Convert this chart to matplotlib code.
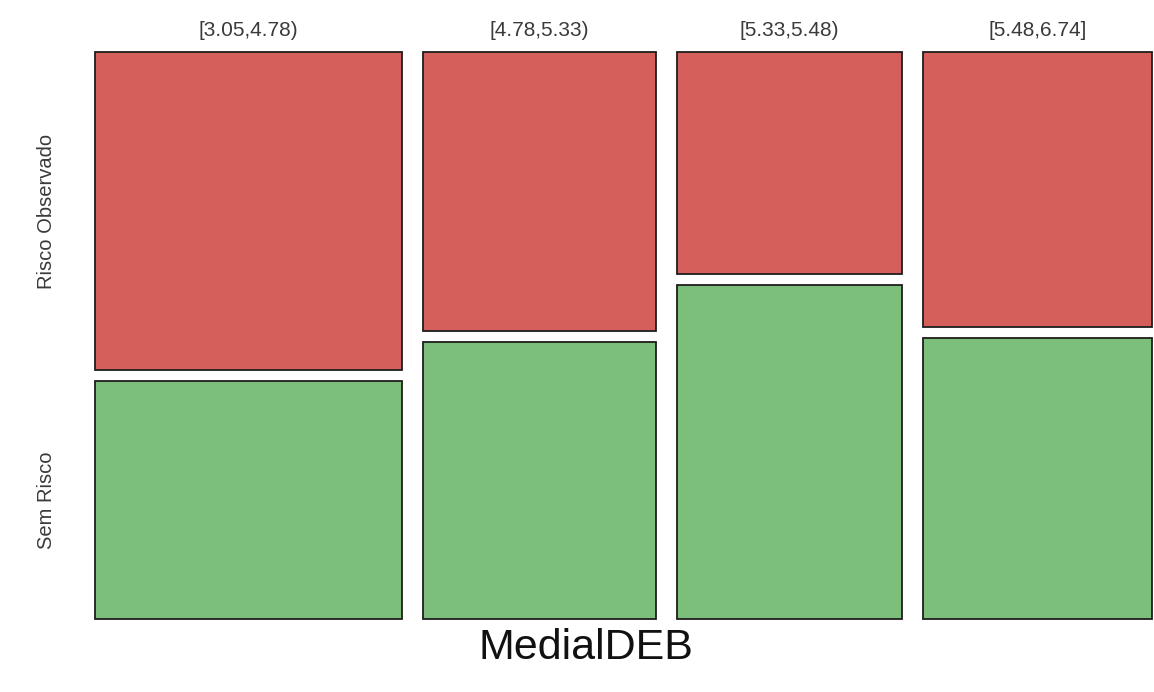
import matplotlib
matplotlib.use("Agg")
import matplotlib.pyplot as plt
from matplotlib.patches import Rectangle
from matplotlib.transforms import blended_transform_factory

# Mosaic of risk outcome by MedialDEB interval
intervals = ["[3.05,4.78)", "[4.78,5.33)", "[5.33,5.48)", "[5.48,6.74]"]
interval_share = [0.309, 0.234, 0.227, 0.230]   # share of observations per interval
risk_share = [0.572, 0.502, 0.400, 0.495]       # share with "Risco Observado" per interval
outcomes = ["Risco Observado", "Sem Risco"]
outcome_colors = ["#D55F5A", "#7BBF7A"]

gap_x = 0.0211
gap_y = 0.0198

plt.rcParams["font.family"] = ["Liberation Sans", "DejaVu Sans"]

fig = plt.figure(figsize=(11.54, 6.92), dpi=100)
ax = fig.add_axes([95 / 1154, 1 - 619 / 692, 1057 / 1154, 567 / 692])

total_w = sum(interval_share) + gap_x * (len(intervals) - 1)
total_h = 1 + gap_y
ax.set_xlim(0, total_w)
ax.set_ylim(0, total_h)
ax.axis("off")

x0 = 0.0
centers = []
for label, w, r in zip(intervals, interval_share, risk_share):
    g = 1 - r
    # lower cell: no risk
    ax.add_patch(Rectangle((x0, 0), w, g, facecolor=outcome_colors[1],
                           edgecolor="#1e1e1e", linewidth=1.3, clip_on=False))
    # upper cell: observed risk
    ax.add_patch(Rectangle((x0, g + gap_y), w, r, facecolor=outcome_colors[0],
                           edgecolor="#1e1e1e", linewidth=1.3, clip_on=False))
    centers.append((x0 + w / 2, g, r))
    ax.text(x0 + w / 2, total_h + 0.022, label, ha="center", va="bottom",
            fontsize=15, color="#3a3a3a")
    x0 += w + gap_x

# row labels aligned with the first column's cells
trans = blended_transform_factory(fig.transFigure, ax.transData)
_, g1, r1 = centers[0]
fig.text(47 / 1154, g1 + gap_y + r1 / 2, outcomes[0], rotation=90,
         ha="center", va="center", fontsize=14.5, color="#3a3a3a", transform=trans)
fig.text(47 / 1154, g1 / 2, outcomes[1], rotation=90,
         ha="center", va="center", fontsize=14.5, color="#3a3a3a", transform=trans)

fig.text(586 / 1154, 1 - 648 / 692, "MedialDEB", ha="center", va="center",
         fontsize=31, color="#111111")

fig.savefig("out.png", dpi=100, facecolor="white")
